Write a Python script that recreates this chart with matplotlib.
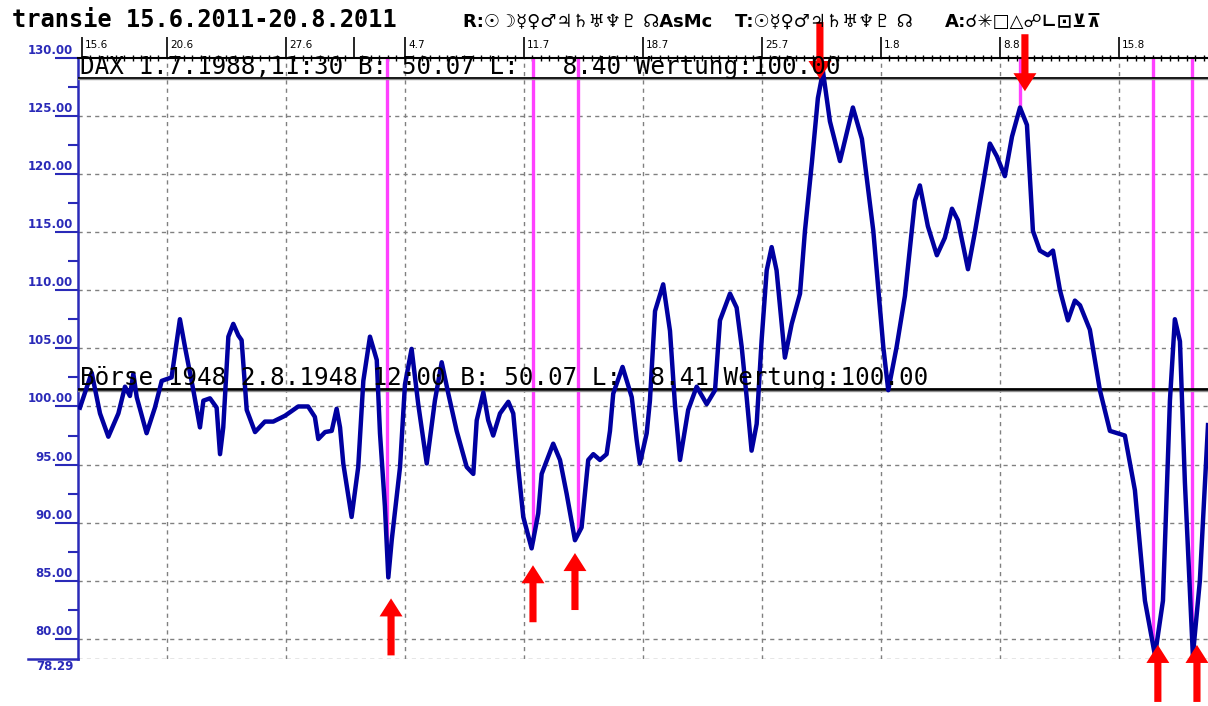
import numpy as np
import matplotlib
matplotlib.use('Agg')
import matplotlib.pyplot as plt
import matplotlib.transforms as mtransforms
from matplotlib.patches import FancyArrow

# ---------------- data ----------------
# days after 15.6.2011 and index value
day = [-0.12, 0.57, 1.06, 1.55, 2.14, 2.53, 2.82, 3.02, 3.22, 3.80, 4.29, 4.69, 5.27, 5.76,
       6.06, 6.55, 6.94, 7.14, 7.53, 7.92, 8.12, 8.31, 8.61, 8.90, 9.20, 9.39, 9.69, 10.18,
       10.76, 11.25, 11.94, 12.72, 13.30, 13.70, 13.90, 14.30, 14.69, 14.98, 15.18, 15.37,
       15.86, 16.25, 16.55, 16.94, 17.34, 17.53, 17.82, 18.02, 18.22, 18.71, 19.00, 19.39,
       19.78, 20.28, 20.76, 21.16, 21.55, 22.04, 22.63, 23.02, 23.22, 23.61, 23.90, 24.19,
       24.59, 25.08, 25.37, 25.66, 25.96, 26.45, 26.84, 27.04, 27.72, 28.12, 28.51, 29.00,
       29.39, 29.78, 30.08, 30.47, 30.86, 31.06, 31.25, 31.80, 32.34, 32.63, 32.82, 33.22,
       33.41, 33.71, 34.19, 34.59, 34.88, 35.18, 35.66, 36.16, 36.75, 37.24, 37.53, 38.12,
       38.51, 38.81, 39.10, 39.39, 39.69, 39.98, 40.28, 40.57, 40.86, 41.35, 41.75, 42.24,
       42.53, 42.94, 43.29, 43.59, 44.00, 44.59, 45.35, 45.88, 46.55, 46.84, 47.14, 47.43,
       47.92, 48.41, 49.00, 49.29, 49.76, 50.29, 50.76, 51.18, 51.53, 52.12, 52.53, 53.41,
       53.82, 54.29, 54.71, 55.18, 55.59, 55.94, 56.35, 56.82, 57.12, 57.53, 58.00, 58.41,
       58.71, 59.29, 59.88, 60.47, 61.35, 61.94, 62.53, 63.12, 63.59, 64.00, 64.29, 64.59,
       64.88, 65.35, 65.76, 66.24]
value = [99.9, 102.9, 99.4, 97.4, 99.4, 101.7, 100.9, 102.8, 100.8, 97.7, 99.9, 102.2, 102.5, 107.5,
         105.1, 101.4, 98.2, 100.5, 100.7, 99.9, 95.9, 98.2, 106.0, 107.1, 106.1, 105.7, 99.7, 97.8,
         98.7, 98.7, 99.2, 100.0, 100.0, 99.1, 97.2, 97.8, 97.9, 99.8, 98.2, 95.1,
         90.5, 94.8, 102.2, 106.0, 104.0, 97.7, 91.4, 85.3, 88.5, 94.8, 101.9, 104.95,
         100.2, 95.1, 100.5, 103.8, 101.1, 97.9, 94.8, 94.2, 98.8, 101.2, 98.8, 97.5,
         99.4, 100.4, 99.4, 94.8, 90.5, 87.8, 90.8, 94.2, 96.8, 95.4, 92.5, 88.5,
         89.6, 95.4, 95.9, 95.4, 95.9, 97.9, 101.1, 103.4, 100.8, 97.1, 95.1, 97.7,
         100.5, 108.2, 110.5, 106.5, 100.2, 95.4, 99.7, 101.7, 100.2, 101.4, 107.4, 109.7,
         108.5, 105.1, 100.8, 96.2, 98.5, 105.7, 111.7, 113.7, 111.7, 104.2, 107.1, 109.7,
         115.1, 121.0, 126.5, 128.8, 124.5, 121.1, 125.7, 123.0, 115.1, 110.2, 105.1, 101.4,
         105.1, 109.5, 117.7, 119.0, 115.5, 113.0, 114.5, 117.0, 116.0, 111.8, 115.0, 122.6,
         121.5, 119.8, 123.2, 125.7, 124.2, 115.1, 113.4, 113.0, 113.4, 110.0, 107.4, 109.1,
         108.7, 106.6, 101.4, 97.9, 97.5, 92.8, 83.3, 78.6, 83.3, 100.5, 107.5, 105.6,
         93.5, 78.6, 85.0, 98.4]

date_ticks = [0, 5, 12, 19, 26, 33, 40, 47, 54, 61]
date_labels = ['15.6', '20.6', '27.6', '4.7', '11.7', '18.7', '25.7', '1.8', '8.8', '15.8']
unlabeled_major = [16]
y_ticks = [80, 85, 90, 95, 100, 105, 110, 115, 120, 125, 130]
y_labels = ['80.00', '85.00', '90.00', '95.00', '100.00', '105.00', '110.00', '115.00',
            '120.00', '125.00', '130.00']
y_min, y_max = 78.29, 130.0
x_min, x_max = -0.235, 66.24

hit_days = [17.94, 26.53, 29.18, 43.53, 55.18, 63.0, 65.3]
up_arrow_days = [18.18, 26.53, 29.0, 63.29, 65.59]
up_arrow_tips = [83.5, 86.35, 87.4, 79.5, 79.5]
down_arrow_days = [43.41, 55.47]
down_arrow_tips = [128.15, 127.1]
band_levels = [128.26, 101.46]

title = 'transie 15.6.2011-20.8.2011'
r_text = 'R:☉☽☿♀♂♃♄♅♆♇ ☊AsMc'
t_text = 'T:☉☿♀♂♃♄♅♆♇ ☊'
a_text = 'A:☌✳□△☍∟⊡⊻⊼'
dax_text = 'DAX 1.7.1988,11:30 B: 50.07 L:   8.40 Wertung:100.00'
boerse_text = 'Börse 1948 2.8.1948 12:00 B: 50.07 L:  8.41 Wertung:100.00'

sym_family = ['DejaVu Sans', 'Noto Sans', 'Noto Sans CJK SC']

# ---------------- figure ----------------
W, H = 1208, 706
fig = plt.figure(figsize=(W / 100, H / 100), dpi=100)
fig.patch.set_facecolor('white')
ax = fig.add_axes([78 / W, 1 - 659 / H, 1130 / W, (659 - 57.5) / H])
ax.set_xlim(x_min, x_max)
ax.set_ylim(y_min, y_max)

blue = '#2a2ab8'
line_blue = '#0000a0'

# grid
grid_kw = dict(color='#808080', lw=1.0, ls=(0, (3, 3)), zorder=1)
for yv in [y_min] + y_ticks[:-1]:
    ax.axhline(yv, **grid_kw)
for xv in date_ticks[1:]:
    ax.axvline(xv, **grid_kw)

# band lines
for lv in band_levels:
    ax.axhline(lv, color='black', lw=2.0, zorder=3)
    ax.axhline(lv - 0.12, color='#909090', lw=1.0, zorder=3)

# hit lines
hit_vals = np.interp(hit_days, day, value)
ax.vlines(hit_days, hit_vals, y_max, color='#ff40ff', lw=2.4, zorder=2)

# curve
ax.plot(day, value, color=line_blue, lw=3.2, zorder=4, solid_joinstyle='round')

# arrows
up_len = 4.9
for xd, tip in zip(up_arrow_days, up_arrow_tips):
    ax.add_patch(FancyArrow(xd, tip - up_len, 0, up_len, width=0.42, head_width=1.35,
                            head_length=1.55, length_includes_head=True, color='#ff0000',
                            lw=0, zorder=6, clip_on=False))
for xd, tip in zip(down_arrow_days, down_arrow_tips):
    ax.add_patch(FancyArrow(xd, tip + up_len, 0, -up_len, width=0.42, head_width=1.35,
                            head_length=1.55, length_includes_head=True, color='#ff0000',
                            lw=0, zorder=6, clip_on=False))

# spines
for s in ['bottom', 'right']:
    ax.spines[s].set_visible(False)
ax.spines['left'].set_color(blue)
ax.spines['left'].set_linewidth(1.8)
ax.spines['top'].set_color('black')
ax.spines['top'].set_linewidth(1.5)

# y ticks
ax.set_yticks(y_ticks)
ax.set_yticklabels([])
ax.set_yticks([v + 2.5 for v in y_ticks[:-1]], minor=True)
ax.tick_params(axis='y', which='major', length=16.5, width=1.5, color=blue)
ax.tick_params(axis='y', which='minor', length=7, width=1.5, color=blue)
ylab_tr = ax.get_yaxis_transform() + mtransforms.ScaledTranslation(-5 / 100, 1 / 100, fig.dpi_scale_trans)
for v, lab in zip(y_ticks, y_labels):
    ax.text(0, v, lab, transform=ylab_tr, ha='right', va='bottom', color=blue,
            fontsize=8.5, fontweight='bold', family='DejaVu Sans')
# bottom value
ax.plot([-50 / 1130, 0], [y_min, y_min], transform=ax.get_yaxis_transform(), color=blue,
        lw=1.8, clip_on=False)
bot_tr = ax.get_yaxis_transform() + mtransforms.ScaledTranslation(-23 / 100, -1 / 100, fig.dpi_scale_trans)
ax.text(0, y_min, '78.29', transform=bot_tr, ha='center', va='top', color=blue,
        fontsize=8.5, fontweight='bold', family='DejaVu Sans')

# x ticks on top
ax.xaxis.tick_top()
ax.set_xticks(date_ticks + unlabeled_major)
ax.set_xticklabels([])
ax.set_xticks(np.arange(0, 66.5, 0.5), minor=True)
ax.tick_params(axis='x', which='major', direction='out', length=15, width=1.2, color='black')
ax.tick_params(axis='x', which='minor', direction='inout', length=5, width=1.0, color='black')
xlab_tr = ax.get_xaxis_transform() + mtransforms.ScaledTranslation(3 / 100, 8 / 100, fig.dpi_scale_trans)
for d, lab in zip(date_ticks, date_labels):
    ax.text(d, 1, lab, transform=xlab_tr, ha='left', va='bottom', fontsize=7.5,
            family='DejaVu Sans', color='black')

# texts
fig.text(12 / W, 1 - 27 / H, title, family='DejaVu Sans Mono', fontweight='bold',
         fontsize=17, va='baseline', ha='left')
fig.text(463 / W, 1 - 27 / H, r_text, family=sym_family, fontweight='bold',
         fontsize=13, va='baseline', ha='left')
fig.text(735 / W, 1 - 27 / H, t_text, family=sym_family, fontweight='bold',
         fontsize=13, va='baseline', ha='left')
fig.text(945 / W, 1 - 27 / H, a_text, family=sym_family, fontweight='bold',
         fontsize=13, va='baseline', ha='left')
fig.text(80 / W, 1 - 74 / H, dax_text, family='DejaVu Sans Mono', fontsize=17.5,
         va='baseline', ha='left', zorder=5)
fig.text(80 / W, 1 - 385 / H, boerse_text, family='DejaVu Sans Mono', fontsize=17.5,
         va='baseline', ha='left', zorder=5)

fig.savefig('out.png', dpi=100)
